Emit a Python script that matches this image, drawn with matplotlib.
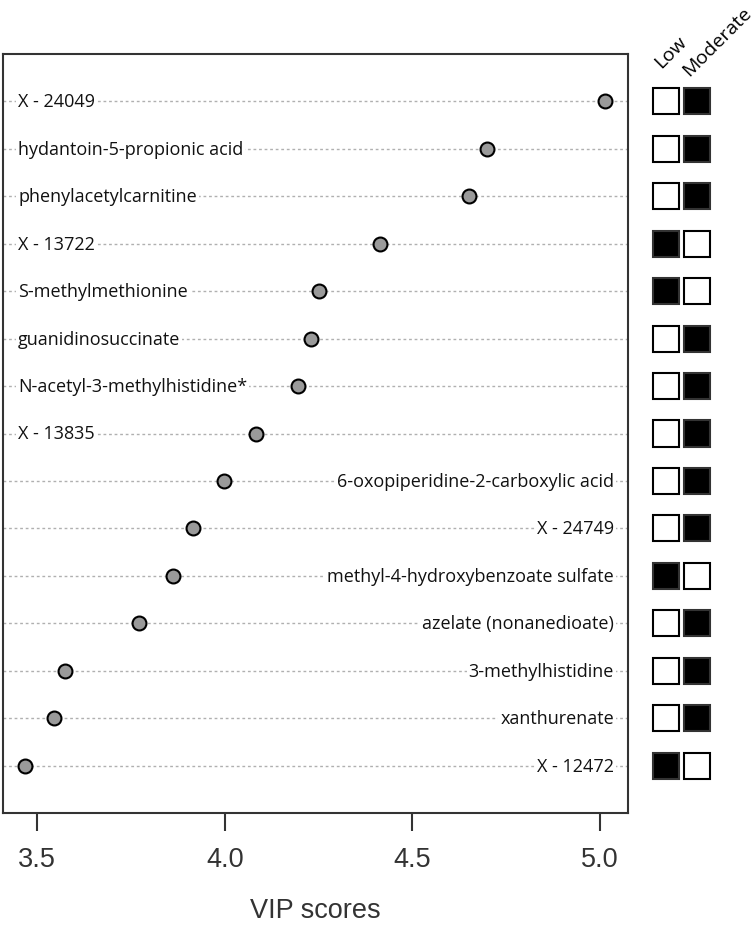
import matplotlib
matplotlib.use('Agg')
import matplotlib.pyplot as plt
import numpy as np

plt.rcParams['lines.scale_dashes'] = False

metabolites = [
    "X - 24049",
    "hydantoin-5-propionic acid",
    "phenylacetylcarnitine",
    "X - 13722",
    "S-methylmethionine",
    "guanidinosuccinate",
    "N-acetyl-3-methylhistidine*",
    "X - 13835",
    "6-oxopiperidine-2-carboxylic acid",
    "X - 24749",
    "methyl-4-hydroxybenzoate sulfate",
    "azelate (nonanedioate)",
    "3-methylhistidine",
    "xanthurenate",
    "X - 12472",
]
vip = [5.013, 4.699, 4.651, 4.414, 4.251, 4.230, 4.195, 4.084,
       3.998, 3.916, 3.862, 3.772, 3.575, 3.545, 3.468]
low = [0, 0, 0, 1, 1, 0, 0, 0, 0, 0, 1, 0, 0, 0, 1]
moderate = [1, 1, 1, 0, 0, 1, 1, 1, 1, 1, 0, 1, 1, 1, 0]
label_side = ['left'] * 8 + ['right'] * 7
xticks = [3.5, 4.0, 4.5, 5.0]
xtick_labels = ['3.5', '4.0', '4.5', '5.0']
group_labels = ['Low', 'Moderate']
xlabel = 'VIP scores'

W, H = 756, 928
fig = plt.figure(figsize=(W / 100, H / 100), dpi=100)


def fx(px):
    return px / W


def fy(py):
    return 1 - py / H


L, R, T, B = 3, 628, 55, 814
ax = fig.add_axes([fx(L), fy(B), (R - L) / W, (B - T) / H])
n = len(metabolites)
ypos = np.arange(n)[::-1]
ax.set_ylim(-1, n)
ax.set_xlim(3.409, 5.075)

for y in ypos:
    ax.axhline(y, color='#b0b0b0', lw=1.0, ls=(0, (2, 2)), zorder=1)

ax.scatter(vip, ypos, s=100, c='#9a9a9a', edgecolors='black',
           linewidths=1.5, zorder=3)

lab_font = dict(family=['Open Sans', 'DejaVu Sans'], fontsize=13,
                color='#111111')
trans = ax.get_yaxis_transform()
for name, y, side in zip(metabolites, ypos, label_side):
    if side == 'left':
        xa, ha = (18 - L) / (R - L), 'left'
    else:
        xa, ha = (614 - L) / (R - L), 'right'
    ax.text(xa, y, name, transform=trans, ha=ha, va='center', zorder=2,
            bbox=dict(boxstyle='square,pad=0.1', fc='white', ec='none'),
            **lab_font)

ax.set_xticks(xticks)
ax.set_xticklabels(xtick_labels, family=['Liberation Sans', 'DejaVu Sans'])
ax.set_yticks([])
ax.tick_params(axis='x', length=13, width=1.5, pad=11, labelsize=19.5,
               color='#333333', labelcolor='#333333')
for sp in ax.spines.values():
    sp.set_color('#333333')
    sp.set_linewidth(1.5)
ax.set_xlabel(xlabel, fontsize=19.5, color='#333333', labelpad=18,
              family=['Liberation Sans', 'DejaVu Sans'])

# heatmap squares
ax2 = fig.add_axes([fx(650.5), fy(B), 62 / W, (B - T) / H])
ax2.set_xlim(0, 2)
ax2.set_ylim(-1, n)
ax2.axis('off')
sq_w, sq_h = 0.87, 0.55
for col, vals in enumerate([low, moderate]):
    colors = ['black' if v else 'white' for v in vals]
    edges = ['#333333' if v else 'black' for v in vals]
    ax2.barh(ypos, sq_w, left=col + 0.5 - sq_w / 2, height=sq_h,
             color=colors, edgecolor=edges, linewidth=1.5)

fig.text(fx(664), fy(72), group_labels[0], rotation=45, ha='left',
         va='bottom', rotation_mode='anchor', fontsize=14,
         family=['Open Sans', 'DejaVu Sans'])
fig.text(fx(692), fy(80), group_labels[1], rotation=45, ha='left',
         va='bottom', rotation_mode='anchor', fontsize=14,
         family=['Open Sans', 'DejaVu Sans'])

fig.savefig('out.png', dpi=100)
